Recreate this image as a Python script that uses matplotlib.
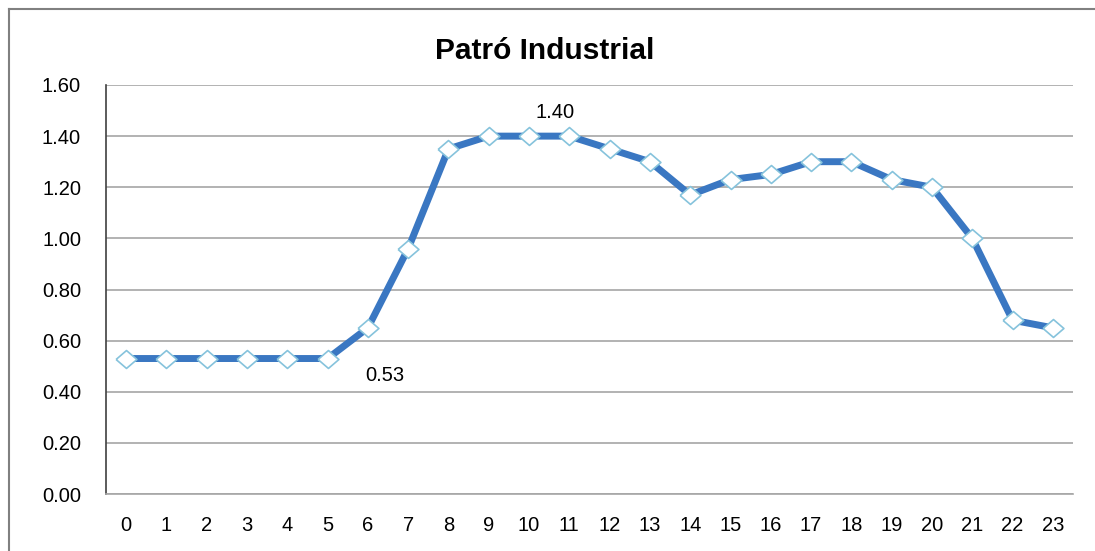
import matplotlib
matplotlib.use("Agg")
import matplotlib.pyplot as plt
from matplotlib.lines import Line2D

hours = list(range(24))
values = [0.53, 0.53, 0.53, 0.53, 0.53, 0.53, 0.65, 0.96, 1.35, 1.40, 1.40, 1.40,
          1.35, 1.30, 1.17, 1.23, 1.25, 1.30, 1.30, 1.23, 1.20, 1.00, 0.68, 0.65]
yticks = [0.0, 0.2, 0.4, 0.6, 0.8, 1.0, 1.2, 1.4, 1.6]
title = "Patró Industrial"

plt.rcParams['font.family'] = ['Liberation Sans', 'DejaVu Sans']

fig = plt.figure(figsize=(10.95, 5.51), dpi=100)
ax = fig.add_axes([106/1095, 1-494/551, (1073-106)/1095, (494-85)/551])

diamond = [(-1, 0), (0, 0.86), (1, 0), (0, -0.86), (-1, 0)]
ax.plot(hours, values, color='#3A77C2', lw=5, marker=diamond, markersize=15,
        markerfacecolor='white', markeredgecolor='#86C3DC', markeredgewidth=1.2,
        solid_joinstyle='round', zorder=3)

ax.set_xlim(-0.5, 23.5)
ax.set_ylim(0, 1.6)
ax.set_yticks(yticks)
ax.set_yticklabels([f"{v:.2f}" for v in yticks])
ax.set_xticks(hours)
ax.set_xticklabels([str(h) for h in hours])
ax.tick_params(axis='y', length=0, pad=18, labelsize=14.5)
ax.tick_params(axis='x', length=0, pad=16, labelsize=14.5)
ax.yaxis.grid(True, color='#A6A6A6', lw=1.2)
ax.set_axisbelow(True)
for s in ['top', 'right']:
    ax.spines[s].set_visible(False)
ax.spines['bottom'].set_color('#A6A6A6')
ax.spines['bottom'].set_linewidth(1.2)
ax.spines['left'].set_color('#404040')
ax.spines['left'].set_linewidth(1.2)

# data labels
ax.annotate(f"{values[10]:.2f}", xy=(hours[10], values[10]), xytext=(19, 17),
            textcoords='offset points', ha='center', va='center', fontsize=14.5)
ax.annotate(f"{values[5]:.2f}", xy=(hours[5], values[5]), xytext=(41, -12),
            textcoords='offset points', ha='center', va='center', fontsize=14.5)

fig.text(545/1095, 1-59/551, title, ha='center', va='baseline', fontsize=21.5,
         fontweight='bold')

# outer chart border (top and left visible)
fig.add_artist(Line2D([9/1095, 1], [1-9/551, 1-9/551], color='#808080', lw=1.5,
                      transform=fig.transFigure))
fig.add_artist(Line2D([9/1095, 9/1095], [0, 1-9/551], color='#808080', lw=1.5,
                      transform=fig.transFigure))

fig.savefig("out.png", dpi=100)
